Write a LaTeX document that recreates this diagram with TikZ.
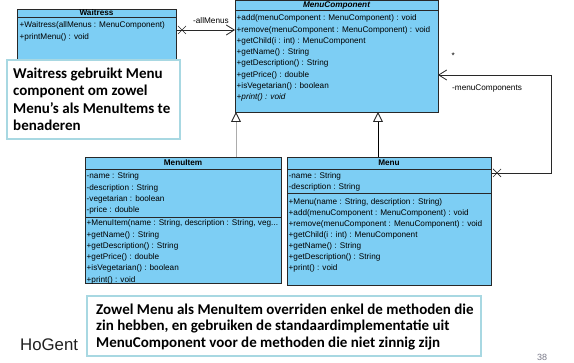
\documentclass[tikz,border=0pt]{standalone}
\usepackage{fontspec}
\setmainfont{Liberation Sans}
\newfontfamily\notefont{Carlito}
\usetikzlibrary{arrows.meta}
\definecolor{umlfill}{RGB}{125,206,244}
\definecolor{umlline}{RGB}{40,40,40}
\definecolor{noteline}{RGB}{168,216,226}
\definecolor{pagenum}{RGB}{120,120,135}
% truncated constructor signature (kept out of \foreach lists)
\newcommand\itemctor{+MenuItem(name : String, description : String, veg...}
\begin{document}
\begin{tikzpicture}[x=1pt,y=-1pt,
  cls/.style={draw=umlline, fill=umlfill, line width=0.9pt, anchor=north west, inner sep=0pt, outer sep=0pt},
  sep/.style={draw=umlline, line width=0.8pt},
  head/.style={font=\fontsize{8.2}{10}\selectfont\bfseries, anchor=base, inner sep=0pt},
  row/.style={font=\fontsize{8.2}{10}\selectfont, anchor=base west, inner sep=0pt},
  note/.style={draw=noteline, line width=1.2pt, fill=white, anchor=north west, inner sep=0pt, outer sep=0pt},
  notetext/.style={font=\notefont\fontsize{15}{17.5}\selectfont\bfseries, anchor=base west, inner sep=0pt},
  assoc/.style={draw=umlline, line width=0.8pt},
  navi/.style={-{Straight Barb[length=8pt, width=10pt]}},
  gen/.style={line width=0.9pt, -{Triangle[open, length=10pt, width=10pt, color=gray!30!black, fill=white]}},
  cross/.style={draw=umlline, line width=0.7pt},
]
\useasboundingbox (0,0) rectangle (574,363);

% ---- Waitress
\node[cls, minimum width=159pt, minimum height=50pt] (waitress) at (17,9) {};
\draw[sep] ([yshift=-8.3pt]waitress.north west) -- ([yshift=-8.3pt]waitress.north east);
\node[head] (waitress-h) at (96.5,16) {Waitress};
\node[row] (waitress-r1) at (19.5,27.8) {+Waitress(allMenus : MenuComponent)};
\node[row] (waitress-r2) at (19.5,39.8) {+printMenu() : void};

% ---- MenuComponent
\node[cls, minimum width=203pt, minimum height=112pt] (mc) at (235,0) {};
\draw[sep] ([yshift=-10.5pt]mc.north west) -- ([yshift=-10.5pt]mc.north east);
\node[head] (mc-h) at (336.5,8) {\itshape MenuComponent};
\foreach \t [count=\i] in {
  {+add(menuComponent : MenuComponent) : void},
  {+remove(menuComponent : MenuComponent) : void},
  {+getChild(i : int) : MenuComponent},
  {+getName() : String},
  {+getDescription() : String},
  {+getPrice() : double},
  {+isVegetarian() : boolean},
  {\itshape +print() : void}}
  \node[row] (mc-r\i) at (236.5, 9.5+11.3*\i) {\t};

% ---- MenuItem
\node[cls, minimum width=196pt, minimum height=126.5pt] (mi) at (85,157) {};
\draw[sep] ([yshift=-12pt]mi.north west) -- ([yshift=-12pt]mi.north east);
\draw[sep] ([yshift=-60pt]mi.north west) -- ([yshift=-60pt]mi.north east);
\node[head] (mi-h) at (183,166) {MenuItem};
\foreach \t [count=\i] in {
  {-name : String},
  {-description : String},
  {-vegetarian : boolean},
  {-price : double}}
  \node[row] (mi-a\i) at (86.5, 167.5+11.3*\i) {\t};
\foreach \t [count=\i] in {
  {\itemctor},
  {+getName() : String},
  {+getDescription() : String},
  {+getPrice() : double},
  {+isVegetarian() : boolean},
  {+print() : void}}
  \node[row] (mi-m\i) at (86.5, 214.5+11.3*\i) {\t};

% ---- Menu
\node[cls, minimum width=204pt, minimum height=128pt] (menu) at (287,157) {};
\draw[sep] ([yshift=-12pt]menu.north west) -- ([yshift=-12pt]menu.north east);
\draw[sep] ([yshift=-36pt]menu.north west) -- ([yshift=-36pt]menu.north east);
\node[head] (menu-h) at (389,166) {Menu};
\foreach \t [count=\i] in {
  {-name : String},
  {-description : String}}
  \node[row] (menu-a\i) at (288.5, 167.5+11.2*\i) {\t};
\foreach \t [count=\i] in {
  {+Menu(name : String, description : String)},
  {+add(menuComponent : MenuComponent) : void},
  {+remove(menuComponent : MenuComponent) : void},
  {+getChild(i : int) : MenuComponent},
  {+getName() : String},
  {+getDescription() : String},
  {+print() : void}}
  \node[row] (menu-m\i) at (288.5, 193.8+11*\i) {\t};

% ---- generalizations
\coordinate (g1) at (236,0);
\coordinate (g2) at (378,0);
\draw[gen, draw=gray!65] (mi.north -| g1) -- (mc.south -| g1);
\draw[gen, draw=black] (menu.north -| g2) -- (mc.south -| g2);

% ---- Waitress -> MenuComponent
\coordinate (am) at (0,30);
\draw[assoc, navi] (waitress.east |- am) -- (mc.west |- am);
\path (waitress.east |- am) ++(6,0) coordinate (xw);
\draw[cross] (xw) +(-4,-4) -- +(4,4) (xw) +(-4,4) -- +(4,-4);
\node[row] (am-lbl) at (193,24) {-allMenus};

% ---- Menu -> MenuComponent (children)
\coordinate (sa) at (0,173);
\coordinate (sb) at (551,75);
\draw[assoc, navi] (menu.east |- sa) -| (sb) -- (mc.east |- sb);
\path (menu.east |- sa) ++(6,0) coordinate (xm);
\draw[cross] (xm) +(-4,-4) -- +(4,4) (xm) +(-4,4) -- +(4,-4);
\node[row] (mult) at (451.5,59) {*};
\node[row] (mcs-lbl) at (452,91) {-menuComponents};

% ---- notes
\node[note, minimum width=173pt, minimum height=79pt] (note1) at (7,60) {};
\foreach \t [count=\i] in {
  {Waitress gebruikt Menu},
  {component om zowel},
  {Menu’s als MenuItems te},
  {benaderen}}
  \node[notetext] (note1-l\i) at (13, 61+17.5*\i) {\t};

\node[note, minimum width=394pt, minimum height=60pt] (note2) at (87,296) {};
\foreach \t [count=\i] in {
  {Zowel Menu als MenuItem overriden enkel de methoden die},
  {zin hebben, en gebruiken de standaardimplementatie uit},
  {MenuComponent voor de methoden die niet zinnig zijn}}
  \node[notetext] (note2-l\i) at (96, 298+16.5*\i) {\t};

% ---- footer
\node[font=\fontsize{16.8}{18}\selectfont, text=black!88, anchor=base west, inner sep=0pt] (hogent) at (20,351) {HoGent};
\node[font=\fontsize{9}{10}\selectfont, text=pagenum, anchor=base west, inner sep=0pt] (pnum) at (537,361) {38};
\end{tikzpicture}
\end{document}
